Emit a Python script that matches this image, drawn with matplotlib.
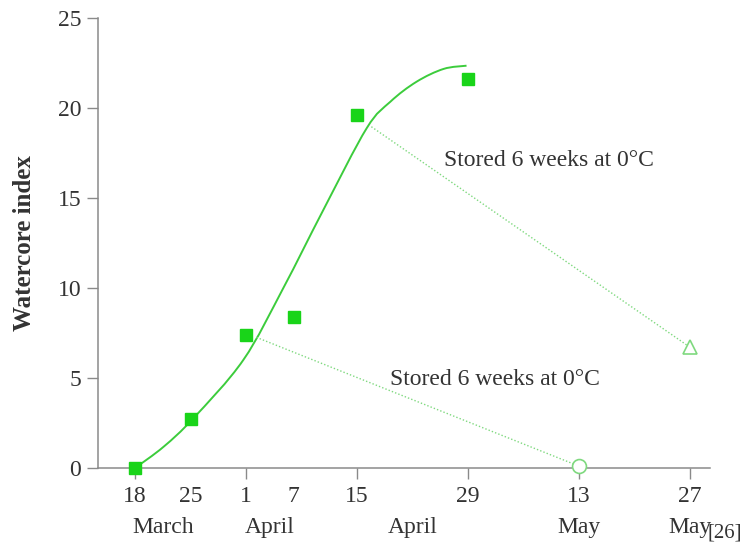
import numpy as np
import matplotlib
matplotlib.use("Agg")
import matplotlib.pyplot as plt
from matplotlib.path import Path
from matplotlib.patches import PathPatch

plt.rcParams['font.family'] = ['Liberation Serif', 'DejaVu Serif']

# days after 18 March
obs_day = [0, 7, 14, 20, 28, 42]
obs_val = [0.0, 2.7, 7.4, 8.4, 19.6, 21.6]

# fitted curve
curve_day = [0, 3.6, 7.35, 13.65, 18.7, 23.7, 29.2, 32.2, 35.5, 38.9, 41.8]
curve_val = [0, 1.18, 2.76, 6.0, 10.0, 14.3, 18.87, 20.35, 21.46, 22.17, 22.35]

# storage lines: start on curve -> stored value
store_hi_day = [29.8, 70]
store_hi_val = [18.96, 6.7]
store_lo_day = [15.3, 56]
store_lo_val = [7.26, 0.1]

major_days = [0, 14, 28, 42, 56, 70]
major_labels = ["18", "1", "15", "29", "13", "27"]
minor_days = [7, 20]
minor_labels = ["25", "7"]
months = ["March", "April", "April", "May", "May"]
month_days = [(0 + 7) / 2, (14 + 20) / 2, (28 + 42) / 2, 56, 70]

green = "#19d419"
light = "#7fd97f"
grey = "#8a8a8a"
txt = "#333333"
fs = 17


def smooth_path(xs, ys):
    # catmull-rom through the read points, as bezier segments
    p = np.column_stack([xs, ys]).astype(float)
    p = np.vstack([p[0], p, p[-1]])
    verts = [p[1]]
    codes = [Path.MOVETO]
    for i in range(1, len(p) - 2):
        c1 = p[i] + (p[i + 1] - p[i - 1]) / 6
        c2 = p[i + 1] - (p[i + 2] - p[i]) / 6
        verts += [c1, c2, p[i + 1]]
        codes += [Path.CURVE4] * 3
    return Path(verts, codes)


fig = plt.figure(figsize=(7.46, 5.42), dpi=100)
ax = fig.add_axes([98 / 746, 1 - 468 / 542, 612 / 746, 450 / 542])

ax.plot(store_hi_day, store_hi_val, color=light, lw=1.0, ls=(0, (1, 1.5)))
ax.plot(store_lo_day, store_lo_val, color=light, lw=1.0, ls=(0, (1, 1.5)))
ax.add_patch(PathPatch(smooth_path(curve_day, curve_val), fc="none", ec="#3ccc3c", lw=1.4))
ax.plot(obs_day, obs_val, ls="none", marker="s", ms=9, color=green, clip_on=False, zorder=5)
ax.plot(store_hi_day[1], store_hi_val[1], marker="^", ms=10, mfc="white", mec=light, mew=1.2,
        clip_on=False, zorder=5)
ax.plot(store_lo_day[1], store_lo_val[1], marker="o", ms=10, mfc="white", mec=light, mew=1.2,
        clip_on=False, zorder=5)

ax.text(39.0, 17.1, "Stored 6 weeks at 0°C", fontsize=fs, color=txt, va="center")
ax.text(32.2, 4.9, "Stored 6 weeks at 0°C", fontsize=fs, color=txt, va="center")

ax.set_xlim(-4.67, 72.5)
ax.set_ylim(0, 25)
ax.set_yticks([0, 5, 10, 15, 20, 25])
ax.set_xticks(major_days)
ax.set_xticklabels(major_labels)
ax.set_xticks(minor_days, minor=True)
ax.set_xticklabels(minor_labels, minor=True)

for s in ["top", "right"]:
    ax.spines[s].set_visible(False)
for s in ["left", "bottom"]:
    ax.spines[s].set_color(grey)
    ax.spines[s].set_linewidth(1.1)

ax.tick_params(axis="both", which="major", length=8, width=1, color=grey,
               labelsize=fs, labelcolor=txt)
ax.tick_params(axis="x", which="major", pad=5)
ax.tick_params(axis="x", which="minor", length=0, pad=13, labelsize=fs, labelcolor=txt)
ax.tick_params(axis="y", which="major", pad=4)

for d, m in zip(month_days, months):
    ax.text(d, -0.133, m, transform=ax.get_xaxis_transform(), ha="center", va="center",
            fontsize=fs, color=txt)

fig.text(742 / 746, 1 - 533 / 542, "[26]", fontsize=15, color=txt, va="center", ha="right")

ax.set_ylabel("Watercore index", fontsize=18, fontweight="bold", color=txt)
ax.yaxis.set_label_coords(-0.102, 0.5)

fig.savefig("out.png", dpi=100)
